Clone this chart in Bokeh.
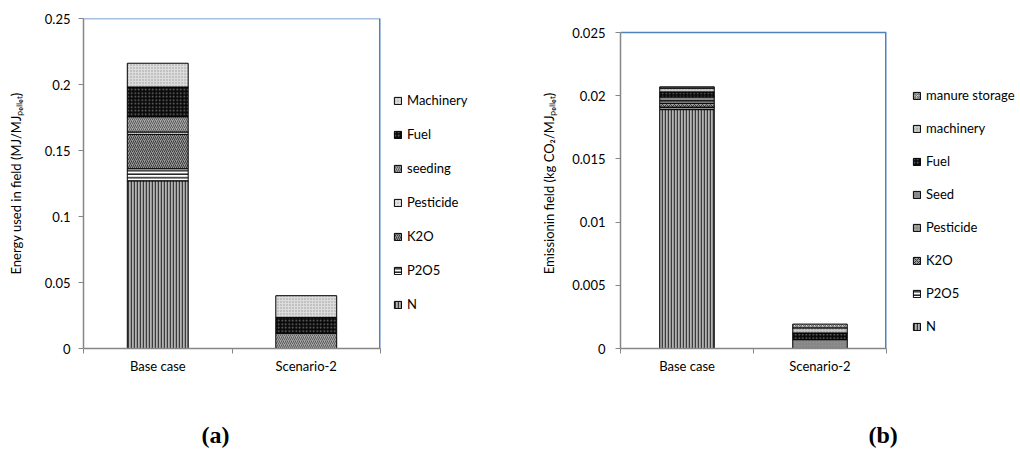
from bokeh.plotting import figure
from bokeh.models import Legend, LegendItem, FixedTicker, NumeralTickFormatter, Title, Range1d
from bokeh.layouts import row
from bokeh.embed import file_html
from bokeh.resources import INLINE
import numpy as np

categories = ["Base case", "Scenario-2"]

# ---- chart (a): energy used in field (MJ/MJ pellet)
energy_components = ["N", "P2O5", "K2O", "Pesticide", "seeding", "Fuel", "Machinery"]
energy_N = [0.127, 0.0]
energy_P2O5 = [0.0092, 0.0]
energy_K2O = [0.026, 0.0]
energy_Pesticide = [0.0018, 0.0]
energy_seeding = [0.0116, 0.0116]
energy_Fuel = [0.0225, 0.012]
energy_Machinery = [0.018, 0.0164]
energy_ticks = [0, 0.05, 0.1, 0.15, 0.2, 0.25]

# ---- chart (b): emission in field (kg CO2/MJ pellet)
emission_components = ["N", "P2O5", "K2O", "Pesticide", "Seed", "Fuel", "machinery", "manure storage"]
emission_N = [0.0189, 0.0]
emission_P2O5 = [0.0002, 0.0]
emission_K2O = [0.0003, 0.0]
emission_Pesticide = [0.0002, 0.0]
emission_Seed = [0.0003, 0.0007]
emission_Fuel = [0.0004, 0.00053]
emission_machinery = [0.0003, 0.0004]
emission_manure = [0.0001, 0.0003]
emission_ticks = [0, 0.005, 0.01, 0.015, 0.02, 0.025]

FONT = "Lato"
AXIS_GREY = "#868686"
FRAME_BLUE = "#4f81bd"
H = 466
TOP = 18          # shared top border of all frames in the row
FRAME_H = 330     # shared frame height

# fill / hatch styles per component (fill, hatch color, pattern, scale, weight)
style_a = {
    "N": ("#b4b4b4", "#3c3c3c", "vertical_line", 3.0, 1.5),
    "P2O5": ("#ffffff", "#222222", "horizontal_line", 3.5, 1.5),
    "K2O": ("#9a9a9a", "#3a3a3a", "right_diagonal_line", 4.0, 1.0),
    "Pesticide": ("#e6e6e6", "#a0a0a0", "dot", 3.0, 1.0),
    "seeding": ("#a8a8a8", "#5a5a5a", "right_diagonal_line", 4.0, 1.0),
    "Fuel": ("#0a0a0a", "#707070", "dot", 3.5, 1.0),
    "Machinery": ("#dcdcdc", "#9a9a9a", "dot", 3.0, 1.0),
}
style_b = {
    "N": ("#b4b4b4", "#3c3c3c", "vertical_line", 3.0, 1.5),
    "P2O5": ("#ffffff", "#222222", "horizontal_line", 3.5, 1.5),
    "K2O": ("#9a9a9a", "#3a3a3a", "diagonal_cross", 4.0, 1.0),
    "Pesticide": ("#a0a0a0", "#707070", "dot", 3.0, 1.0),
    "Seed": ("#8c8c8c", "#7a7a7a", "dot", 3.0, 1.0),
    "Fuel": ("#0a0a0a", "#707070", "dot", 3.5, 1.0),
    "machinery": ("#c8c8c8", "#8a8a8a", "dot", 3.0, 1.0),
    "manure storage": ("#d8d8d8", "#707070", "criss_cross", 4.0, 1.0),
}


def bar_kwargs(styles, name):
    fill, hcol, pat, hs, hw = styles[name]
    return dict(fill_color=fill, hatch_color=hcol, hatch_pattern=pat,
                hatch_scale=hs, hatch_weight=hw, line_color="#000000", line_width=1)


def make_chart(components, series, ticks, ylabel, styles,
               frame_left, frame_w, border_right, plot_top_gap,
               tag, tag_offset, tick_standoff, label_standoff):
    """plot_top_gap: pixels between the shared frame top and the chart's own top (max tick)."""
    x_pos = [i + 0.5 for i in range(len(categories))]
    ytop = ticks[-1] * FRAME_H / (FRAME_H - plot_top_gap)
    p = figure(width=frame_left + frame_w + border_right, height=H, title=None,
               min_border_left=frame_left, min_border_top=TOP,
               min_border_right=border_right,
               min_border_bottom=H - TOP - FRAME_H,
               x_range=Range1d(0, len(categories)), y_range=Range1d(0, ytop),
               output_backend="svg", toolbar_location=None, tools="")
    p.background_fill_color = "white"
    p.border_fill_color = "white"
    p.xgrid.visible = False
    p.ygrid.visible = False
    p.outline_line_color = None

    bottom = np.zeros(len(categories))
    for name, vals in zip(components, series):
        vals = np.array(vals, dtype=float)
        top = bottom + vals
        p.vbar(x=x_pos, bottom=bottom, top=top, width=0.41, **bar_kwargs(styles, name))
        bottom = top

    # plot-area border (top and right, blue) at the chart's own extent
    p.segment(x0=[0], y0=[ticks[-1]], x1=[len(categories)], y1=[ticks[-1]],
              line_color=FRAME_BLUE, line_width=1.5)
    p.segment(x0=[len(categories)], y0=[0], x1=[len(categories)], y1=[ticks[-1]],
              line_color=FRAME_BLUE, line_width=3)

    xa = p.xaxis[0]
    xa.ticker = FixedTicker(ticks=x_pos, minor_ticks=list(range(len(categories) + 1)))
    xa.major_label_overrides = {x: c for x, c in zip(x_pos, categories)}
    xa.major_tick_line_color = None
    xa.minor_tick_line_color = AXIS_GREY
    xa.minor_tick_in = 0
    xa.minor_tick_out = 5
    xa.axis_line_color = AXIS_GREY
    xa.axis_line_width = 1.5
    xa.major_label_text_font = FONT
    xa.major_label_text_font_size = "13px"
    xa.major_label_text_color = "#000000"
    xa.major_label_standoff = 3

    ya = p.yaxis[0]
    ya.bounds = (0, ticks[-1])
    ya.ticker = FixedTicker(ticks=ticks, minor_ticks=[])
    ya.formatter = NumeralTickFormatter(format="0.[000]")
    ya.axis_line_color = AXIS_GREY
    ya.axis_line_width = 1.5
    ya.major_tick_line_color = AXIS_GREY
    ya.major_tick_in = 0
    ya.major_tick_out = 5
    ya.major_label_text_font = FONT
    ya.major_label_text_font_size = "13px"
    ya.major_label_text_color = "#000000"
    ya.major_label_standoff = tick_standoff
    ya.axis_label = ylabel
    ya.axis_label_text_font = FONT
    ya.axis_label_text_font_size = "13px"
    ya.axis_label_text_font_style = "normal"
    ya.axis_label_text_color = "#000000"
    ya.axis_label_standoff = label_standoff

    p.add_layout(Title(text="\n" + tag, align="left", offset=tag_offset, standoff=34,
                       text_font="Liberation Serif", text_font_size="24px",
                       text_font_style="bold", text_color="#000000"), "below")
    return p


def make_legend(components, styles, width, loc, spacing):
    q = figure(width=width, height=H, title=None, min_border=0,
               x_range=Range1d(0, 1), y_range=Range1d(0, 1),
               x_axis_location=None, y_axis_location=None,
               output_backend="svg", toolbar_location=None, tools="")
    q.outline_line_color = None
    q.xgrid.visible = False
    q.ygrid.visible = False
    q.background_fill_color = "white"
    q.border_fill_color = "white"
    items = []
    for name in components:
        # hidden stand-in renderer that carries the series style for the legend swatch
        r = q.vbar(x=[0], top=[0], width=0.1, visible=False, **bar_kwargs(styles, name))
        items.append(LegendItem(label=name, renderers=[r]))
    legend = Legend(items=list(reversed(items)), location=loc,
                    glyph_width=9, glyph_height=9, label_height=20,
                    spacing=spacing, padding=0, margin=0,
                    label_standoff=5, label_text_font=FONT,
                    label_text_font_size="13px", label_text_color="#000000",
                    border_line_color=None, background_fill_alpha=0)
    q.add_layout(legend, "center")
    return q


pa = make_chart(energy_components,
                [energy_N, energy_P2O5, energy_K2O, energy_Pesticide, energy_seeding,
                 energy_Fuel, energy_Machinery],
                energy_ticks, "Energy used in field (MJ/MJ\u209a\u2091\u2097\u2097\u2091\u209c)",
                style_a, 83, 297, 5, 0,
                "(a)", 118, 8, 18)
la = make_legend(energy_components, style_a, 125, (8, 34), 14)

pb = make_chart(emission_components,
                [emission_N, emission_P2O5, emission_K2O, emission_Pesticide, emission_Seed,
                 emission_Fuel, emission_machinery, emission_manure],
                emission_ticks,
                "Emissionin field (kg CO\u2082/MJ\u209a\u2091\u2097\u2097\u2091\u209c)",
                style_b, 110, 266, 20, 14,
                "(b)", 248, 10, 12)
lb = make_legend(emission_components, style_b, 114, (6, 12), 13)

layout = row(pa, la, pb, lb, spacing=0)
open("out.html", "w").write(file_html(layout, INLINE))
